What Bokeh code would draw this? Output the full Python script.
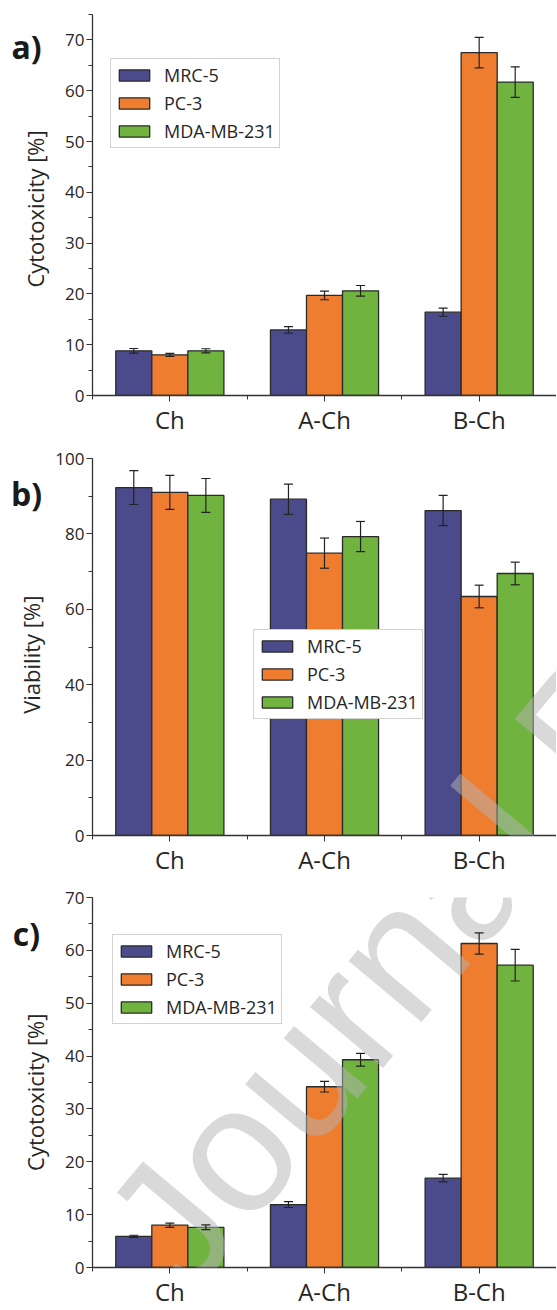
import numpy as np
from bokeh.plotting import figure
from bokeh.models import (ColumnDataSource, Whisker, TeeHead, Legend, LegendItem, Label,
                          FixedTicker, SingleIntervalTicker, Range1d)
from bokeh.layouts import column, row
from bokeh.embed import file_html
from bokeh.resources import INLINE

# ---------------- data ----------------
categories = ["Ch", "A-Ch", "B-Ch"]
series = ["MRC-5", "PC-3", "MDA-MB-231"]
colors = ["#4B4A8B", "#EE7D30", "#70B33F"]

# panel a) cytotoxicity
a_mrc5 = [8.8, 12.9, 16.4]
a_mrc5_err = [0.45, 0.65, 0.8]
a_pc3 = [8.0, 19.7, 67.5]
a_pc3_err = [0.3, 0.85, 3.0]
a_mda = [8.8, 20.6, 61.7]
a_mda_err = [0.4, 1.05, 3.0]

# panel b) viability
b_mrc5 = [92.3, 89.2, 86.2]
b_mrc5_err = [4.5, 4.0, 4.0]
b_pc3 = [91.0, 74.9, 63.4]
b_pc3_err = [4.5, 4.0, 3.0]
b_mda = [90.2, 79.3, 69.5]
b_mda_err = [4.5, 4.0, 3.0]

# panel c) cytotoxicity
c_mrc5 = [5.9, 11.9, 16.9]
c_mrc5_err = [0.2, 0.55, 0.7]
c_pc3 = [8.0, 34.2, 61.3]
c_pc3_err = [0.4, 1.0, 2.0]
c_mda = [7.6, 39.3, 57.2]
c_mda_err = [0.45, 1.2, 3.0]

# ---------------- layout constants ----------------
FONT = "Open Sans"
TXT = "#262626"
STRIP_W = 50
MAIN_W = 506
BORDER_L = 42
FRAME_W = MAIN_W - BORDER_L
X0_PAGE = STRIP_W + BORDER_L
BAR_W = 0.233
OFFSETS = [-BAR_W, 0.0, BAR_W]
WM_ANCHOR = (140, 1266)   # page position of watermark baseline start
WM_ANGLE = np.deg2rad(50)
WM_SIZE = "180px"


def xd(px):
    return -0.5 + (px - X0_PAGE) * 3.0 / FRAME_W


def make_panel(letter, ylabel, ymax, interval, values, errors, fig_top, b_top,
               frame_h, b_bot, legend_pos, title_x, watermark=False):
    height = b_top + frame_h + b_bot
    frame_top = fig_top + b_top
    frame_bot = frame_top + frame_h

    def yd(py):
        return ymax * (frame_bot - py) / frame_h

    p = figure(width=MAIN_W, height=height, x_range=(-0.5, 2.5), y_range=(0, ymax),
               output_backend="svg", toolbar_location=None, tools="",
               min_border_left=BORDER_L, min_border_right=0,
               min_border_top=b_top, min_border_bottom=b_bot)
    p.outline_line_color = None
    p.grid.visible = False
    p.background_fill_color = "white"
    p.border_fill_color = "white"

    items = []
    for k, name in enumerate(series):
        xs = np.arange(len(categories)) + OFFSETS[k]
        v = np.array(values[k])
        e = np.array(errors[k])
        src = ColumnDataSource(dict(x=xs, top=v, upper=v + e, lower=v - e))
        r = p.vbar(x="x", top="top", bottom=0, width=BAR_W, source=src,
                   fill_color=colors[k], line_color="#2a2a2a", line_width=1.3)
        w = Whisker(base="x", upper="upper", lower="lower", source=src,
                    line_color="#222222", line_width=1.2, level="overlay",
                    upper_head=TeeHead(size=9, line_color="#222222", line_width=1.2),
                    lower_head=TeeHead(size=9, line_color="#222222", line_width=1.2))
        p.add_layout(w)
        items.append(LegendItem(label=name, renderers=[r]))

    # axes
    yax = p.yaxis[0]
    yax.ticker = SingleIntervalTicker(interval=interval, num_minor_ticks=2)
    yax.axis_line_color = "#333333"
    yax.axis_line_width = 1.3
    yax.major_tick_line_color = "#333333"
    yax.minor_tick_line_color = "#333333"
    yax.major_tick_in = 0
    yax.major_tick_out = 6
    yax.minor_tick_in = 0
    yax.minor_tick_out = 4
    yax.major_label_text_font = FONT
    yax.major_label_text_font_size = "17px"
    yax.major_label_text_color = TXT
    yax.major_label_standoff = 2

    xax = p.xaxis[0]
    xax.ticker = FixedTicker(ticks=list(range(len(categories))),
                             minor_ticks=[-0.5 + i for i in range(len(categories) + 1)])
    xax.major_label_overrides = {i: c for i, c in enumerate(categories)}
    xax.axis_line_color = "#333333"
    xax.axis_line_width = 1.3
    xax.major_tick_line_color = "#333333"
    xax.minor_tick_line_color = "#333333"
    xax.major_tick_in = 0
    xax.major_tick_out = 6
    xax.minor_tick_in = 0
    xax.minor_tick_out = 4
    xax.major_label_text_font = FONT
    xax.major_label_text_font_size = "24px"
    xax.major_label_text_color = TXT
    xax.major_label_standoff = 1

    legend = Legend(items=items, location=legend_pos, glyph_width=38, glyph_height=14,
                    label_standoff=11, spacing=4, padding=4, margin=0, label_height=21,
                    label_text_font=FONT, label_text_font_size="18px",
                    label_text_color=TXT, border_line_color="#a6a6a6",
                    border_line_width=1.2, background_fill_alpha=1.0)
    p.add_layout(legend)

    if watermark:
        p.add_layout(Label(x=xd(WM_ANCHOR[0]), y=yd(WM_ANCHOR[1]), text="Journal Pre-proof",
                           angle=WM_ANGLE, text_font="Liberation Sans", text_font_size=WM_SIZE,
                           text_color="#b4b4b4", text_alpha=0.5,
                           text_align="left", text_baseline="alphabetic"))

    # left strip holding the panel letter and the y title
    s = figure(width=STRIP_W, height=height, x_range=Range1d(0, STRIP_W),
               y_range=Range1d(height, 0), output_backend="svg", toolbar_location=None,
               tools="", min_border=0, x_axis_location=None, y_axis_location=None)
    s.outline_line_color = None
    s.grid.visible = False
    s.add_layout(Label(x=26, y=b_top + 23, text=letter,
                       text_font=FONT, text_font_style="bold", text_font_size="32px",
                       text_color="#1a1a1a", text_align="center", text_baseline="middle"))
    s.add_layout(Label(x=title_x, y=b_top + frame_h - 170 * frame_h / 380.0, text=ylabel,
                       angle=np.pi / 2, text_font=FONT, text_font_size="22px",
                       text_color=TXT, text_align="center", text_baseline="middle"))
    return row(s, p, spacing=0)


pa = make_panel("a)", "Cytotoxicity [%]", 75, 10,
                [a_mrc5, a_pc3, a_mda], [a_mrc5_err, a_pc3_err, a_mda_err],
                fig_top=0, b_top=14, frame_h=381, b_bot=45, legend_pos=(18, 247),
                title_x=34)
pb = make_panel("b)", "Viability [%]", 100, 20,
                [b_mrc5, b_pc3, b_mda], [b_mrc5_err, b_pc3_err, b_mda_err],
                fig_top=440, b_top=18, frame_h=380, b_bot=40, legend_pos=(161, 116),
                title_x=30, watermark=True)
pc = make_panel("c)", "Cytotoxicity [%]", 70, 10,
                [c_mrc5, c_pc3, c_mda], [c_mrc5_err, c_pc3_err, c_mda_err],
                fig_top=878, b_top=19, frame_h=377, b_bot=36, legend_pos=(20, 243),
                title_x=34, watermark=True)

layout = column(pa, pb, pc, spacing=0)
open("out.html", "w").write(file_html(layout, INLINE))
